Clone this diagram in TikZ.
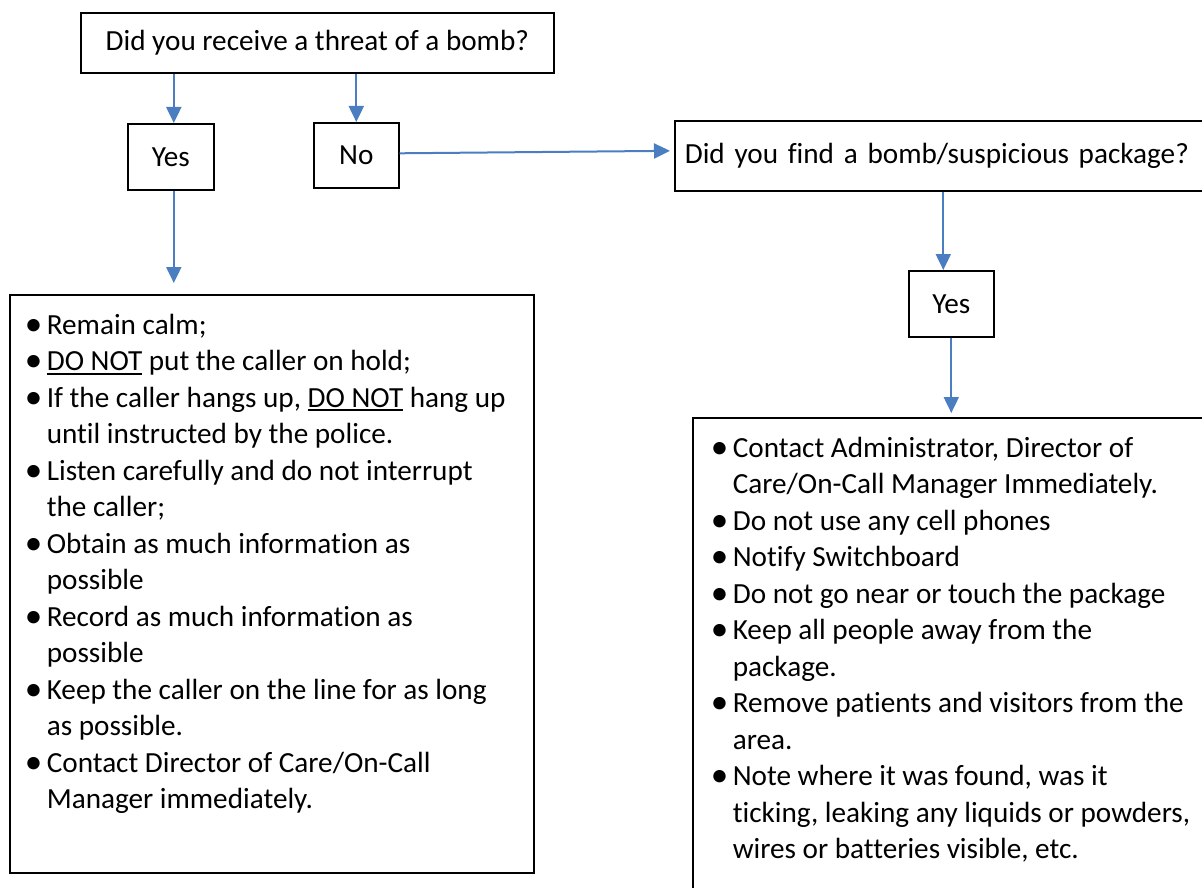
\documentclass[tikz,border=0pt]{standalone}
\usepackage{fontspec}
\setmainfont{Carlito}[Ligatures=NoCommon]
\usepackage{graphicx}
\usepackage{tikz}
\usetikzlibrary{arrows.meta}
\usetikzlibrary{shapes}
\usetikzlibrary{scopes}

\definecolor{flowblue}{RGB}{74,126,193}
% one bullet point with hanging indent
\newcommand{\bul}[1]{\par\noindent\hangindent=18pt\hangafter=1\makebox[18pt][l]{\hspace*{-4pt}\raisebox{-1.2pt}{\scalebox{1.2}{\textbullet}}}#1\par}
\newcommand{\ulword}[1]{\setbox0\hbox{#1}\rlap{\rule[-4pt]{\wd0}{1.6pt}}\box0\relax}

\begin{document}
\begin{tikzpicture}[x=1pt, y=-1pt,
		font=\fontsize{29.2}{36.5}\selectfont,
		box/.style={draw, black, line width=1.6pt, rectangle, anchor=north west, inner sep=0pt},
		listbox/.style={box, inner xsep=19pt, inner ysep=19pt}]
		\useasboundingbox (0,0) rectangle (1202,888);
		\clip (0,0) rectangle (1202,888);

		% questions and answers
		\node[box, minimum width=473pt, minimum height=60pt] (threat) at (80,12) {Did you receive a threat of a bomb?};
		\node[box, minimum width=86pt, minimum height=66pt] (yesthreat) at (127,123) {Yes};
		\node[box, minimum width=85pt, minimum height=65pt] (nothreat) at (313,122) {No};
		\node[box, minimum width=560pt, minimum height=70pt, text width=540pt, align=left] (found) at (674,120) {Did you find a bomb/suspicious package?};
		\node[box, minimum width=85pt, minimum height=66pt] (yesfound) at (908,270) {Yes};

		% what to do
		\node[listbox] (callsteps) at (9,294) {\begin{minipage}[t][540pt][t]{486pt}\raggedright
			\bul{Remain calm;}
			\bul{\ulword{DO NOT} put the caller on hold;}
			\bul{If the caller hangs up, \ulword{DO NOT} hang up\newline until instructed by the police.}
			\bul{Listen carefully and do not interrupt\newline the caller;}
			\bul{Obtain as much information as\newline possible}
			\bul{Record as much information as\newline possible}
			\bul{Keep the caller on the line for as long\newline as possible.}
			\bul{Contact Director of Care/On-Call\newline Manager immediately.}
		\end{minipage}};
		\node[listbox, inner xsep=22pt] (foundsteps) at (692,417) {\begin{minipage}[t][520pt][t]{500pt}\raggedright
			\bul{Contact Administrator, Director of\newline Care/On-Call Manager Immediately.}
			\bul{Do not use any cell phones}
			\bul{Notify Switchboard}
			\bul{Do not go near or touch the package}
			\bul{Keep all people away from the\newline package.}
			\bul{Remove patients and visitors from the\newline area.}
			\bul{Note where it was found, was it\newline ticking, leaking any liquids or powders,\newline wires or batteries visible, etc.}
		\end{minipage}};

		\begin{scope}[flowblue, line width=2pt, -{Triangle[length=16pt, width=15pt]}]
			\draw ([xshift=3pt]yesthreat.north |- threat.south) -- ([xshift=3pt]yesthreat.north);
			\draw (nothreat.north |- threat.south) -- (nothreat.north);
			\draw[shorten >=4pt] ([yshift=2pt]nothreat.east) -- ([yshift=5pt]found.west);
			\draw ([xshift=-8pt]yesfound.north |- found.south) -- ([xshift=-8pt]yesfound.north);
			\draw[shorten >=4pt] (yesfound.south) -- (yesfound.south |- foundsteps.north);
			\draw[shorten >=11pt] ([xshift=3pt]yesthreat.south) -- ([xshift=3pt]yesthreat.south |- callsteps.north);
		\end{scope}
	\end{tikzpicture}
\end{document}
